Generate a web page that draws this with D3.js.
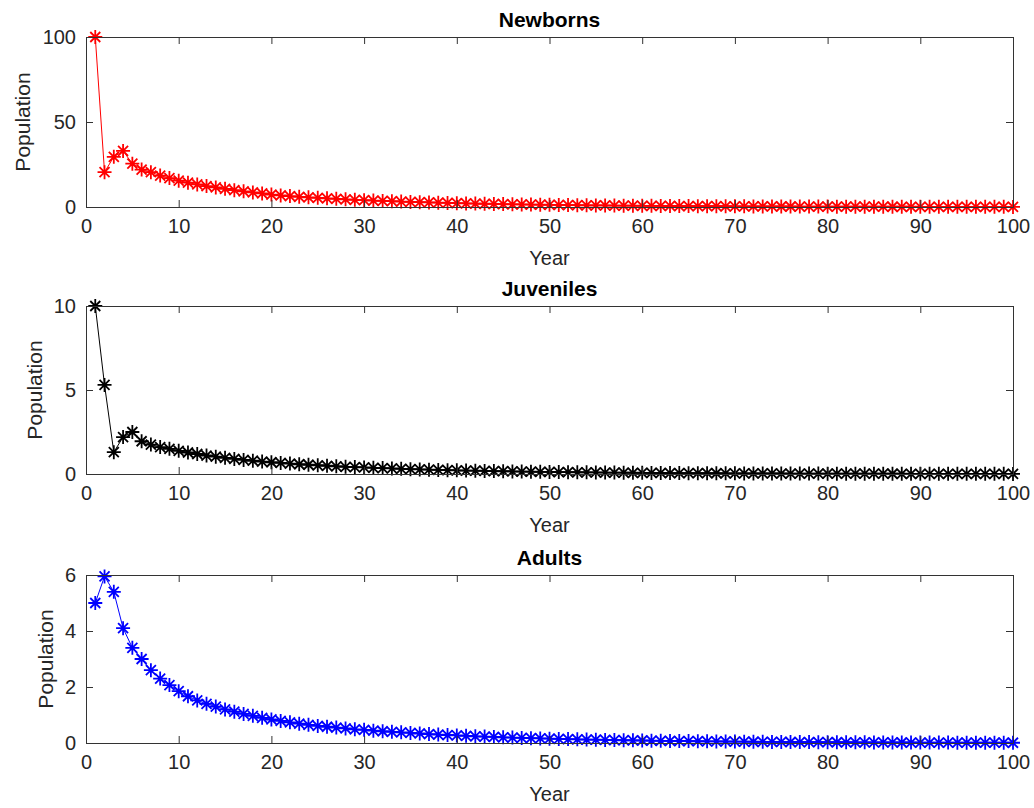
<!DOCTYPE html>
<html><head><meta charset="utf-8">
<script src="https://cdn.jsdelivr.net/npm/d3@7"></script>
<style>body{margin:0;background:#fff}svg{display:block}text{font-family:"Liberation Sans",Arial,Helvetica,sans-serif}</style>
</head><body><svg id="c" width="1034" height="808"></svg>
<script>
const years = d3.range(1, 101);
const titles = ["Newborns", "Juveniles", "Adults"];
const xTicks = [0,10,20,30,40,50,60,70,80,90,100];
const yTicksNewborns = [0,50,100];
const yTicksJuveniles = [0,5,10];
const yTicksAdults = [0,2,4,6];
const newborns = [100,20.5,29.5,33,25.5,22,20.5,18.5,17,15.5,14.3,13.3,12.3,11.5,10.7,9.9,9.2,8.6,8.0,7.3,6.8,6.4,6.0,5.7,5.4,5.1,4.8,4.5,4.2,4.0,3.8,3.6,3.4,3.2,3.0,2.85,2.7,2.55,2.4,2.25,2.13,2.0,1.9,1.8,1.7,1.6,1.5,1.42,1.34,1.27,1.2,1.13,1.07,1.01,0.95,0.9,0.85,0.8,0.76,0.72,0.68,0.64,0.6,0.57,0.54,0.51,0.48,0.45,0.43,0.4,0.38,0.36,0.34,0.32,0.3,0.29,0.27,0.26,0.24,0.23,0.22,0.2,0.19,0.18,0.17,0.16,0.15,0.14,0.14,0.13,0.12,0.11,0.11,0.1,0.1,0.09,0.09,0.08,0.08,0.07];
const juveniles = [10,5.3,1.3,2.2,2.5,1.95,1.75,1.6,1.5,1.38,1.28,1.19,1.1,1.03,0.96,0.9,0.84,0.79,0.74,0.7,0.66,0.62,0.58,0.55,0.52,0.49,0.46,0.43,0.41,0.39,0.37,0.35,0.33,0.31,0.29,0.275,0.26,0.245,0.23,0.22,0.205,0.195,0.185,0.175,0.165,0.155,0.145,0.137,0.13,0.122,0.115,0.109,0.103,0.097,0.092,0.087,0.082,0.077,0.073,0.069,0.065,0.061,0.058,0.055,0.052,0.049,0.046,0.044,0.041,0.039,0.037,0.035,0.033,0.031,0.029,0.028,0.026,0.025,0.023,0.022,0.021,0.02,0.019,0.018,0.017,0.016,0.015,0.014,0.013,0.013,0.012,0.011,0.011,0.01,0.01,0.009,0.009,0.008,0.008,0.007];
const adults = [5.0,5.95,5.4,4.1,3.4,3.0,2.6,2.3,2.07,1.85,1.67,1.52,1.4,1.3,1.2,1.12,1.04,0.97,0.9,0.84,0.79,0.74,0.69,0.65,0.61,0.58,0.55,0.52,0.49,0.47,0.44,0.42,0.4,0.38,0.36,0.34,0.32,0.3,0.285,0.27,0.255,0.24,0.228,0.216,0.204,0.193,0.183,0.173,0.164,0.155,0.147,0.139,0.131,0.124,0.117,0.111,0.105,0.099,0.094,0.089,0.084,0.079,0.075,0.071,0.067,0.063,0.06,0.057,0.054,0.051,0.048,0.045,0.043,0.04,0.038,0.036,0.034,0.032,0.03,0.029,0.027,0.026,0.024,0.023,0.022,0.02,0.019,0.018,0.017,0.016,0.015,0.014,0.014,0.013,0.012,0.011,0.011,0.01,0.01,0.009];

const panels = [
  {title: titles[0], data: newborns, yTicks: yTicksNewborns, yMax: 100, color: "#ff0000", top: 37, bottom: 207, ylx: 22},
  {title: titles[1], data: juveniles, yTicks: yTicksJuveniles, yMax: 10, color: "#000000", top: 306, bottom: 474, ylx: 34},
  {title: titles[2], data: adults, yTicks: yTicksAdults, yMax: 6, color: "#0000ff", top: 575, bottom: 743, ylx: 45}
];
const L = 86, R = 1013, axisColor = "#333", tl = 7;
const svg = d3.select("#c");
const x = d3.scaleLinear().domain([0,100]).range([L,R]);
const fmt = d3.format("d");

panels.forEach(p => {
  const y = d3.scaleLinear().domain([0,p.yMax]).range([p.bottom,p.top]);
  const g = svg.append("g");
  g.append("path").datum(p.data)
    .attr("fill","none").attr("stroke",p.color).attr("stroke-width",1)
    .attr("d", d3.line().x((d,i)=>x(years[i])).y(d=>y(d)));
  const s = 7, sd = 5;
  const star = `M${-s},0L${s},0M0,${-s}L0,${s}M${-sd},${-sd}L${sd},${sd}M${-sd},${sd}L${sd},${-sd}`;
  g.selectAll("path.m").data(p.data).enter().append("path").attr("class","m")
    .attr("transform",(d,i)=>`translate(${x(years[i])},${y(d)})`)
    .attr("d",star).attr("stroke",p.color).attr("stroke-width",1.8).attr("fill","none");
  const xb = d3.axisBottom(x).tickValues(xTicks).tickSizeInner(-tl).tickSizeOuter(0).tickPadding(12).tickFormat(fmt);
  const xt = d3.axisTop(x).tickValues(xTicks).tickSizeInner(-tl).tickSizeOuter(0).tickFormat("");
  const yl = d3.axisLeft(y).tickValues(p.yTicks).tickSizeInner(-tl).tickSizeOuter(0).tickPadding(10).tickFormat(fmt);
  const yr = d3.axisRight(y).tickValues(p.yTicks).tickSizeInner(-tl).tickSizeOuter(0).tickFormat("");
  [[xb,`translate(0,${p.bottom})`],[xt,`translate(0,${p.top})`],[yl,`translate(${L},0)`],[yr,`translate(${R},0)`]].forEach(([ax,tr])=>{
    const a = g.append("g").attr("transform",tr).call(ax);
    a.select(".domain").attr("stroke",axisColor).attr("stroke-width",1);
    a.selectAll(".tick line").attr("stroke",axisColor);
    a.selectAll("text").attr("fill","#262626").style("font-size","20px").style("font-family",'"Liberation Sans",Arial,sans-serif');
  });
  g.append("text").attr("x",(L+R)/2).attr("y",p.top-10).attr("text-anchor","middle")
    .style("font-size","21px").style("font-weight","bold").attr("fill","#000").text(p.title);
  g.append("text").attr("x",(L+R)/2).attr("y",p.bottom+58).attr("text-anchor","middle")
    .style("font-size","20px").attr("fill","#262626").text("Year");
  g.append("text").attr("transform",`translate(${p.ylx+8},${(p.top+p.bottom)/2}) rotate(-90)`)
    .attr("text-anchor","middle").style("font-size","21px").attr("fill","#262626").text("Population");
});
</script></body></html>
